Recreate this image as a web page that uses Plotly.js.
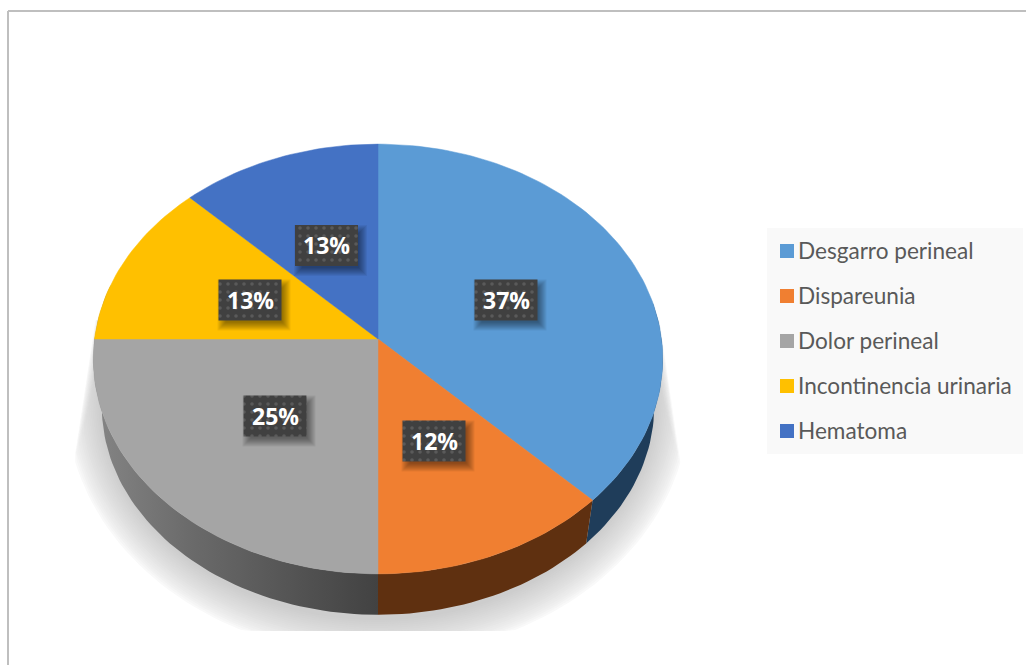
<!DOCTYPE html>
<html><head><meta charset="utf-8">
<script src="https://cdn.plot.ly/plotly-3.0.1.min.js"></script>
<style>html,body{margin:0;padding:0;background:#fff;overflow:hidden}</style>
</head><body><div id="chart" style="width:1026px;height:665px"></div>
<script>
const categories = ["Desgarro perineal","Dispareunia","Dolor perineal","Incontinencia urinaria","Hematoma"];
const sliceValues = [37.5,12.5,25,12.5,12.5];
const percentLabels = ["37%","12%","25%","13%","13%"];
const topColors = ["#5B9BD5","#F07F31","#A5A5A5","#FFC000","#4472C4"];
const wallColors = ["#1F3D5A","#5F3010",null,null,null];
const labelCenters = [[506,300],[434,441],[275,416],[250,300],[326.5,245.5]];

const cx=378, cyTop=339, R=283.5, A=213, K=0.093, cyBase=387, BS=0.97;
function proj(tDeg, cy, s){
  const t=tDeg*Math.PI/180, u=Math.sin(t), v=-Math.cos(t), d=1-K*v;
  return [cx+s*R*u/d, cy+s*A*v/d];
}
function arc(a,b,cy,s){
  const n=Math.max(2,Math.ceil(Math.abs(b-a)/1.5)), out=[];
  for(let i=0;i<=n;i++) out.push(proj(a+(b-a)*i/n,cy,s));
  return out;
}
function poly(pts,opt){
  return Object.assign({type:'scatter',mode:'lines',x:pts.map(p=>p[0]),y:pts.map(p=>p[1]),
    fill:'toself',line:{width:0},hoverinfo:'skip',showlegend:false},opt);
}
const traces=[];

// soft ground shadow, stepped from outside in
const STEPS=20;
for(let i=0;i<STEPS;i++){
  const f=i/(STEPS-1), rx=314-36*f, ry=258-38*f, inset=10*f;
  const xL=y=>95-(y-320)*0.152+inset, xR=y=>660+(y-320)*0.147-inset;
  const pts=[[xR(320),320]];
  for(let a=86;a<=274;a+=2){
    const t=a*Math.PI/180;
    let x=cx+rx*Math.sin(t), y=Math.min(400-ry*Math.cos(t),631);
    y=Math.max(y,320);
    x=Math.max(xL(y),Math.min(xR(y),x));
    pts.push([x,y]);
  }
  pts.push([xL(320),320]);
  const g=Math.round(255-(255-205)*Math.pow(f,0.7));
  traces.push(poly(pts,{fillcolor:`rgb(${g},${g},${g})`}));
}

// side walls
let cum=0; const bounds=sliceValues.map(v=>{const a=cum;cum+=v;return [a*3.6,cum*3.6];});
function wall(a,b,opt){ return poly(arc(a,b,cyTop,1).concat(arc(b,a,cyBase,BS)),opt); }
traces.push(wall(80,bounds[0][1],{fillcolor:wallColors[0]}));
traces.push(wall(bounds[1][0],bounds[1][1],{fillcolor:wallColors[1]}));
traces.push(wall(bounds[2][0],285,{fillcolor:'#555',
  fillgradient:{type:'horizontal',colorscale:[[0,'#858585'],[0.35,'#6a6a6a'],[0.7,'#545454'],[1,'#424242']]}}));

// top faces
sliceValues.forEach((v,i)=>{
  const pts=[[cx,cyTop]].concat(arc(bounds[i][0],bounds[i][1],cyTop,1));
  pts.push([cx,cyTop]);
  traces.push(poly(pts,{fillcolor:topColors[i],line:{width:0.5,color:topColors[i]},name:categories[i]}));
});

// data label plates
const BW=63, BH=41;
function rect(x0,y0,x1,y1){return [[x0,y0],[x1,y0],[x1,y1],[x0,y1],[x0,y0]];}
const annotations=[];
labelCenters.forEach((c,i)=>{
  for(let e=5;e>=-3;e--){
    traces.push(poly(rect(c[0]-BW/2+4-e,c[1]-BH/2+5-e,c[0]+BW/2+4+e,c[1]+BH/2+5+e),{fillcolor:'rgba(0,0,0,0.055)'}));
  }
  traces.push(poly(rect(c[0]-BW/2,c[1]-BH/2,c[0]+BW/2,c[1]+BH/2),{fillcolor:'#404040',
    fillpattern:{shape:'.',bgcolor:'#404040',fgcolor:'#5a5a5a',fgopacity:1,size:8,solidity:0.16}}));
  annotations.push({x:c[0],y:c[1]-0.5,xref:'x',yref:'y',text:percentLabels[i],showarrow:false,
    font:{family:'Open Sans',size:23,color:'#fff',weight:700},xanchor:'center',yanchor:'middle'});
});

// legend panel
traces.push(poly(rect(767,228,1023,454),{fillcolor:'#F9F9F9'}));
const legendY=[251,296,341,386,431];
traces.push({type:'scatter',mode:'markers',x:categories.map(()=>787),y:legendY,hoverinfo:'skip',showlegend:false,
  marker:{symbol:'square',size:14,color:topColors,line:{width:0}}});
categories.forEach((c,i)=>annotations.push({x:796,y:legendY[i]-1,xref:'x',yref:'y',text:c,showarrow:false,
  xanchor:'left',yanchor:'middle',font:{family:'Lato',size:22.6,color:'#595959'}}));

const shapes=[
 {type:'line',xref:'x',yref:'y',x0:8,y0:11,x1:1026,y1:11,line:{color:'#BFBFBF',width:2}},
 {type:'line',xref:'x',yref:'y',x0:8,y0:11,x1:8,y1:665,line:{color:'#BFBFBF',width:2}}
];
Plotly.newPlot('chart',traces,{width:1026,height:665,margin:{l:0,r:0,t:0,b:0},
  paper_bgcolor:'#fff',plot_bgcolor:'#fff',showlegend:false,annotations,shapes,
  xaxis:{range:[0,1026],visible:false,fixedrange:true},
  yaxis:{range:[665,0],visible:false,fixedrange:true}},
  {displayModeBar:false,staticPlot:true});
</script></body></html>
